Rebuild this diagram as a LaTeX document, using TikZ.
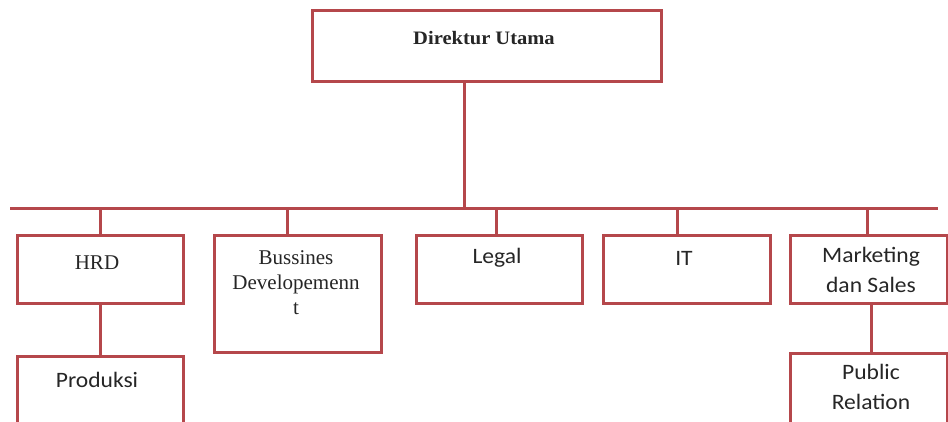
\documentclass[tikz,border=0pt]{standalone}
\usepackage{fontspec}
\setmainfont{Liberation Serif}
\newfontfamily\calib{Carlito}
\usetikzlibrary{positioning}
\definecolor{orgred}{HTML}{B5474B}
\tikzset{
  box/.style={draw=orgred, line width=3pt, fill=white, rectangle, inner sep=0pt},
  link/.style={draw=orgred, line width=3pt},
  sertext/.style={font=\fontsize{21}{25}\selectfont, align=center, inner sep=0pt, text=black!85},
  santext/.style={font=\calib\fontsize{22}{30}\selectfont, align=center, inner sep=0pt, text=black!85, xscale=1.07},
}
\begin{document}
\begin{tikzpicture}[x=1pt,y=-1pt]
\clip (0,0) rectangle (948,421);
\fill[white] (0,0) rectangle (948,421);
% boxes
\node[box, minimum width=349pt, minimum height=71pt] (dir) at (486.5,45.5) {};
\node[box, minimum width=166pt, minimum height=68pt] (hrd) at (100,269.5) {};
\node[box, minimum width=167pt, minimum height=117pt] (bus) at (297.5,294) {};
\node[box, minimum width=166pt, minimum height=68pt] (leg) at (499,269.5) {};
\node[box, minimum width=167pt, minimum height=68pt] (it) at (686.5,269.5) {};
\node[box, minimum width=157pt, minimum height=68pt] (mkt) at (868.5,269.5) {};
\node[box, minimum width=166pt, minimum height=100pt] (prod) at (100,406) {};
\node[box, minimum width=157pt, minimum height=100pt] (pr) at (868.5,403) {};
% texts
\node[sertext, font=\bfseries\fontsize{19}{22}\selectfont, xscale=1.08] (tdir) at (484,38) {Direktur Utama};
\node[sertext] (thrd) at (97,263) {HRD};
\node[sertext] (tbus) at (296,283) {Bussines\\Developemenn\\t};
\node[santext] (tleg) at (497,258) {Legal};
\node[santext] (tit) at (684,258) {IT};
\node[santext] (tmkt) at (871,270) {Marketing\\dan Sales};
\node[santext] (tprod) at (97,380) {Produksi};
\node[santext] (tpr) at (871,387) {Public\\Relation};
% bus line
\coordinate (busL) at (10,208);
\coordinate (busR) at (938,208);
\draw[link] (busL) -- (busR);
\draw[link] ([xshift=-22.5pt]dir.south) -- ([xshift=-22.5pt]dir.south |- busL);
\draw[link] (hrd.north) -- (hrd.north |- busL);
\draw[link] ([xshift=-10.5pt]bus.north) -- ([xshift=-10.5pt]bus.north |- busL);
\draw[link] ([xshift=-3pt]leg.north) -- ([xshift=-3pt]leg.north |- busL);
\draw[link] ([xshift=-9.5pt]it.north) -- ([xshift=-9.5pt]it.north |- busL);
\draw[link] ([xshift=-1.5pt]mkt.north) -- ([xshift=-1.5pt]mkt.north |- busL);
\draw[link] (hrd.south) -- (prod.north);
\draw[link] ([xshift=2.5pt]mkt.south) -- ([xshift=2.5pt]mkt.south |- pr.north);
\end{tikzpicture}
\end{document}
